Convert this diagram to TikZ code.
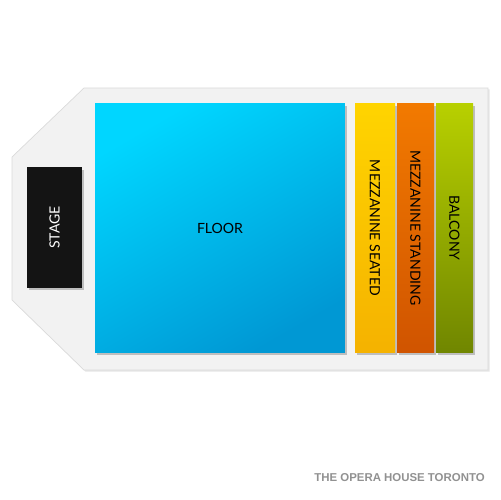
\documentclass[tikz,border=0pt]{standalone}
\usepackage{fontspec}
\setmainfont{Lato}
\newfontfamily\footfont{Liberation Sans}
\usetikzlibrary{shadows}

\definecolor{panelgray}{RGB}{242,242,242}
\definecolor{floortop}{RGB}{0,214,255}
\definecolor{floorbot}{RGB}{0,152,212}
\definecolor{seattop}{RGB}{255,212,0}
\definecolor{seatbot}{RGB}{245,178,0}
\definecolor{standtop}{RGB}{242,122,0}
\definecolor{standbot}{RGB}{208,84,0}
\definecolor{balctop}{RGB}{184,208,0}
\definecolor{balcbot}{RGB}{112,134,0}
\definecolor{footgray}{RGB}{145,145,145}

\tikzset{
    section/.style={rectangle, inner sep=0pt, font=\fontsize{8}{9}\selectfont,
        drop shadow={shadow xshift=0.04cm, shadow yshift=-0.05cm, opacity=0.45}},
    sidebar/.style={section, minimum height=5cm}
}

\begin{document}
\begin{tikzpicture}[x=0.02cm, y=-0.02cm]
            \useasboundingbox[fill=white] (0,0) rectangle (500,500);

            % venue outline
            \draw[panelgray!80!gray, fill=panelgray,
                  drop shadow={shadow xshift=0.03cm, shadow yshift=-0.03cm, opacity=0.2}]
                (84,88) -- (488,88) -- (488,370) -- (84,370)
                -- (12,300) -- (12,157) -- cycle;

            % stage
            \node[section, fill=black!92, minimum width=1.1cm, minimum height=2.42cm,
                  text=white] (stage) at (54.5,227.5) {\rotatebox{90}{STAGE}};

            % floor
            \node[section, top color=floortop, bottom color=floorbot, shading angle=30,
                  minimum width=5cm, minimum height=5cm] (floor) at (220,228) {FLOOR};

            % mezzanine and balcony
            \node[sidebar, top color=seattop, bottom color=seatbot,
                  minimum width=0.8cm] (mezzseat) at (375,228)
                {\rotatebox{-90}{MEZZANINE SEATED}};
            \node[sidebar, top color=standtop, bottom color=standbot,
                  minimum width=0.74cm] (mezzstand) at (415.5,228)
                {\rotatebox{-90}{MEZZANINE STANDING}};
            \node[sidebar, top color=balctop, bottom color=balcbot,
                  minimum width=0.74cm] (balcony) at (454.5,228)
                {\rotatebox{-90}{BALCONY}};

            \node[anchor=east, text=footgray, inner sep=0pt,
                  font=\footfont\bfseries\fontsize{6.5}{8}\selectfont] (venue) at (485,478)
                {THE OPERA HOUSE TORONTO};
        \end{tikzpicture}
\end{document}
